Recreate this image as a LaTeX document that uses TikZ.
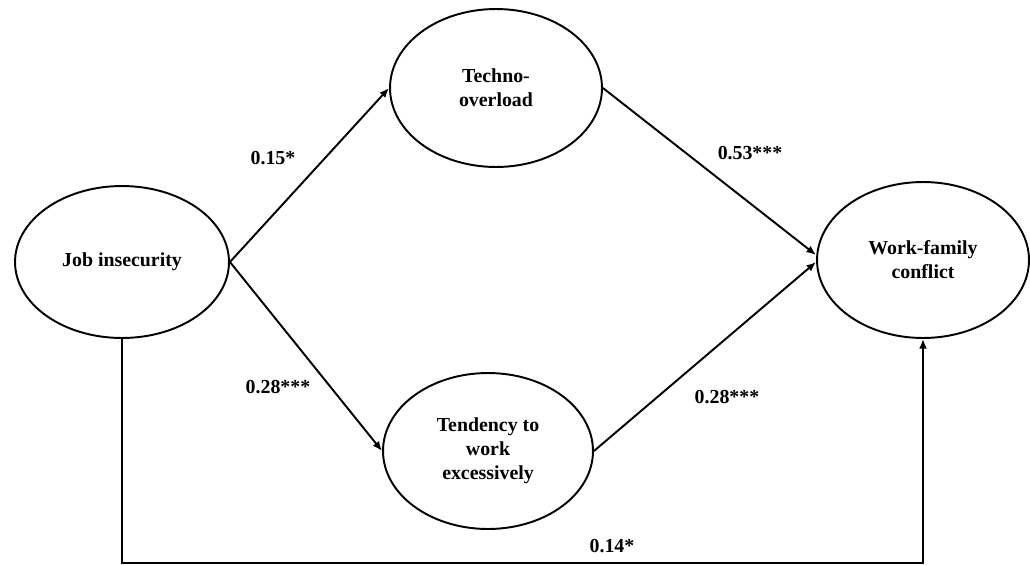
\documentclass[tikz,border=0pt]{standalone}
\usepackage{fontspec}
\setmainfont{Liberation Serif}
\usepackage[]{tikz}
\usetikzlibrary{positioning,shapes.geometric,arrows.meta}
\tikzset{latent/.style={ellipse,draw,line width=1.1pt,inner sep=0pt,align=center,font=\fontsize{11.3}{13.6}\selectfont\bfseries}}
\tikzset{coef/.style={font=\fontsize{11.3}{13.6}\selectfont\bfseries}}
\tikzset{arr/.style={line width=1.1pt,-{Latex[length=5.5pt,width=4.5pt]}}}

\begin{document}
\begin{tikzpicture}[x=0.02cm,y=-0.02cm] % 1 unit = 1 px
            \useasboundingbox (0,0) rectangle (1030,565);
            \node[latent,minimum width=4.28cm,minimum height=3.04cm] (job) at (122,262) {Job insecurity};
            \node[latent,minimum width=4.24cm,minimum height=3.16cm] (techno) at (496,88) {Techno-\\overload};
            \node[latent,minimum width=4.2cm,minimum height=3.12cm] (tend) at (488,451) {Tendency to\\work\\excessively};
            \node[latent,minimum width=4.24cm,minimum height=3.12cm] (wfc) at (923,260) {Work-family\\conflict};
            \coordinate (base) at (122,563); % bottom line
            \draw[arr] (job.east) -- (techno.west);
            \draw[arr] (job.east) -- (tend.west);
            \draw[arr] (techno.east) -- ([yshift=0.1cm]wfc.west);
            \draw[arr] (tend.east) -- ([yshift=-0.04cm]wfc.west);
            \draw[arr] (job.south) -- (base) -| (wfc.south);
            \node[coef] (c1) at (273,158) {0.15*};
            \node[coef] (c2) at (278,387) {0.28***};
            \node[coef] (c3) at (750,153) {0.53***};
            \node[coef] (c4) at (727,397) {0.28***};
            \node[coef] (c5) at (612,546) {0.14*};
        \end{tikzpicture}
\end{document}
